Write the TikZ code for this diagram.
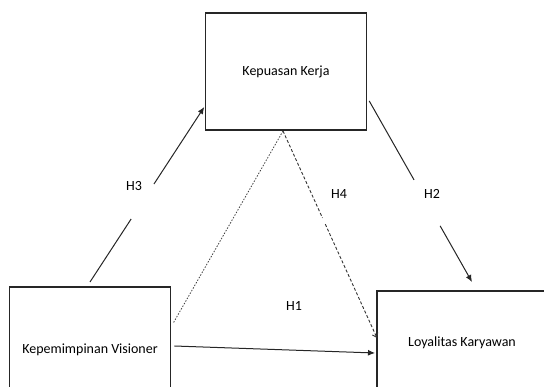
\documentclass[tikz,border=0pt]{standalone}
\usepackage{fontspec}
\setmainfont{Carlito}
\usetikzlibrary{arrows.meta,calc}
\begin{document}
\begin{tikzpicture}[x=1pt,y=-1pt,
  varbox/.style={draw=black!85,line width=1.1pt,inner sep=0pt,outer sep=0pt,font=\fontsize{14}{16}\selectfont},
  hyplabel/.style={inner sep=0pt,font=\fontsize{14}{16}\selectfont},
  conn/.style={draw=black!85,line width=1pt},
  tip/.style={-{Latex[length=7pt,width=6pt]}},
  dashconn/.style={draw=black!80,line width=0.9pt,dash pattern=on 3pt off 2pt},
  dotconn/.style={draw=black!75,line width=0.8pt,dash pattern=on 1.5pt off 1.5pt}]
\useasboundingbox (0,0) rectangle (544,387);
\clip (0,0) rectangle (544,387);
% boxes
\node[varbox,minimum width=160.5pt,minimum height=117pt] (kk) at (286,71.5) {Kepuasan Kerja};
\node[varbox,minimum width=160.6pt,minimum height=126pt] (kv) at (90,350) {Kepemimpinan Visioner};
\node[varbox,minimum width=170pt,minimum height=104pt] (lv) at (462,343) {Loyalitas Karyawan};
% free ends
\coordinate (h3s) at ([yshift=5pt]kv.north);
\coordinate (h3e) at ([xshift=-1.5pt,yshift=-35.5pt]kk.west);
\coordinate (h2s) at ([xshift=3pt,yshift=-29.5pt]kk.east);
\coordinate (h2e) at ([xshift=10pt,yshift=9pt]lv.north);
\coordinate (h4s) at ([xshift=-3pt,yshift=-1pt]kk.south);
\coordinate (h4e) at ([yshift=5pt]lv.west);
\coordinate (dts) at ([xshift=3pt,yshift=27pt]kv.east);
\coordinate (h1s) at ([xshift=4pt,yshift=4pt]kv.east);
\coordinate (h1e) at ([xshift=-2pt,yshift=-10pt]lv.west);
% H3
\draw[conn] (h3s) -- ($(h3s)!0.36!(h3e)$);
\draw[conn,tip] ($(h3s)!0.56!(h3e)$) -- (h3e);
% H2
\draw[conn] (h2s) -- ($(h2s)!0.436!(h2e)$);
\draw[conn,tip] ($(h2s)!0.69!(h2e)$) -- (h2e);
% H4
\draw[dashconn] (h4s) -- ($(h4s)!0.42!(h4e)$);
\draw[dashconn,-{Straight Barb[length=4pt,width=6pt]}] ($(h4s)!0.45!(h4e)$) -- (h4e);
% dotted
\draw[dotconn] (h4s) -- (dts);
% H1
\draw[conn,tip] (h1s) -- (h1e);
% labels
\node[hyplabel] (lh3) at (134,186) {H3};
\node[hyplabel] (lh2) at (432,194) {H2};
\node[hyplabel] (lh4) at (339,194) {H4};
\node[hyplabel] (lh1) at (294,306) {H1};
\end{tikzpicture}
\end{document}
